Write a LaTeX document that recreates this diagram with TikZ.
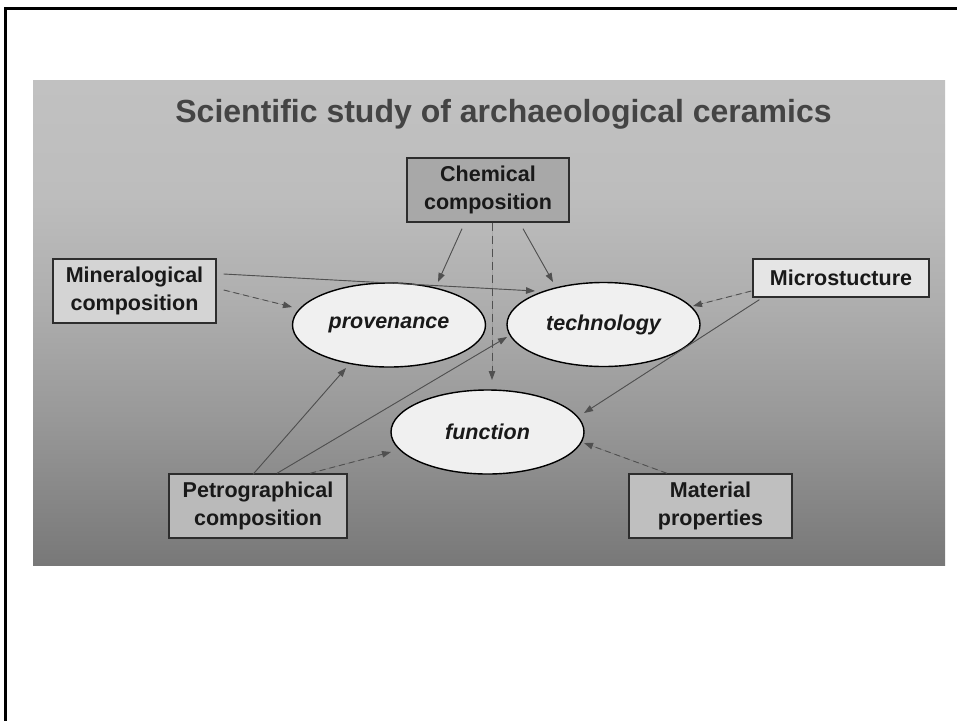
\documentclass[tikz,border=0pt]{standalone}
\usepackage{fontspec}
\setmainfont{Liberation Sans}
\usetikzlibrary{arrows.meta,calc,shapes.geometric}
\definecolor{bgA}{RGB}{120,120,120}
\definecolor{bgB}{RGB}{152,152,152}
\definecolor{bgC}{RGB}{174,174,174}
\definecolor{bgD}{RGB}{189,189,189}
\definecolor{bgE}{RGB}{193,193,193}
\definecolor{arrcol}{RGB}{80,80,80}
\definecolor{boxline}{RGB}{45,45,45}
\definecolor{txtcol}{RGB}{25,25,25}
\definecolor{titlecol}{RGB}{68,68,68}
\pgfdeclareverticalshading{panelshade}{100bp}{color(0bp)=(bgA); color(25bp)=(bgA); color(40bp)=(bgB); color(52bp)=(bgC); color(63bp)=(bgD); color(75bp)=(bgE); color(100bp)=(bgE)}
\tikzset{
  boxstyle/.style={rectangle, draw=boxline, line width=1.4pt, inner sep=0pt, align=center, text=txtcol,
    font=\fontsize{21.5}{27.5}\selectfont\bfseries},
  ellstyle/.style={ellipse, draw=black, line width=1.4pt, fill=white!94!black, inner sep=0pt,
    minimum width=193pt, minimum height=84pt, text=txtcol, font=\fontsize{21.5}{26}\selectfont\bfseries\itshape},
  arr/.style={draw=arrcol, line width=0.9pt, -{Triangle[length=9pt,width=6.5pt]}, fill=arrcol},
  dsh/.style={dash pattern=on 6pt off 4pt}
}
\begin{document}
\begin{tikzpicture}[x=1pt,y=-1pt]
\useasboundingbox (0,0) rectangle (957,720);
\fill[white] (0,0) rectangle (957,720);
% outer frame (partly visible)
\draw[line width=3pt, black] (960,8.5) -- (5.5,8.5) -- (5.5,723);
% panel
\shade[shading=panelshade] (33,80) rectangle (945,565);
% title
\node[anchor=base, text=titlecol, font=\fontsize{32}{36}\selectfont\bfseries] (title) at (503.5,122) {Scientific study of archaeological ceramics};
% boxes
\node[boxstyle, fill=white!66!black, minimum width=162pt, minimum height=64pt] (chem) at (488,190) {Chemical\\composition};
\node[boxstyle, fill=white!83!black, minimum width=163pt, minimum height=64pt] (mineral) at (134.5,291) {Mineralogical\\composition};
\node[boxstyle, fill=white!90!black, minimum width=176pt, minimum height=38pt] (micro) at (841,278) {Microstucture};
\node[boxstyle, fill=white!73!black, minimum width=178pt, minimum height=64pt] (petro) at (258,506) {Petrographical\\composition};
\node[boxstyle, fill=white!75!black, minimum width=163pt, minimum height=64pt] (mater) at (710.5,506) {Material\\properties};
% ellipses
\node[ellstyle] (prov) at (389,325) {provenance};
\node[ellstyle] (tech) at (603.5,324.5) {technology};
\node[ellstyle] (func) at (487.5,432) {function};
% arrows
\draw[arr] ($(chem.south)+(-26,6)$) -- ($(prov.center)+(49,-43)$);
\draw[arr] ($(chem.south)+(35,6)$) -- ($(tech.center)+(-50.5,-42.5)$);
\draw[arr, dash pattern=on 8pt off 5pt] ($(chem.south)+(4,0)$) -- ($(func.center)+(4.5,-52)$);
\draw[arr] ($(mineral.east)+(7,-17)$) -- ($(tech.center)+(-68.5,-33.5)$);
\draw[arr, dsh] ($(mineral.east)+(7,-1)$) -- ($(prov.center)+(-97,-18)$);
\draw[arr, dsh] ($(micro.west)+(-1,13)$) -- ($(tech.center)+(89.5,-18.5)$);
\draw[arr] ($(micro.south west)+(7,2)$) -- ($(func.center)+(96.5,-19)$);
\draw[arr] ($(petro.north)+(-5,1)$) -- ($(prov.center)+(-43,43)$);
\draw[arr] ($(petro.north)+(19,0)$) -- ($(tech.center)+(-96.5,12.5)$);
\draw[arr, dsh] ($(petro.north)+(52,0)$) -- ($(func.center)+(-96.5,20)$);
\draw[arr, dsh] ($(mater.north)+(-43.5,0)$) -- ($(func.center)+(96.5,11)$);
\end{tikzpicture}
\end{document}
